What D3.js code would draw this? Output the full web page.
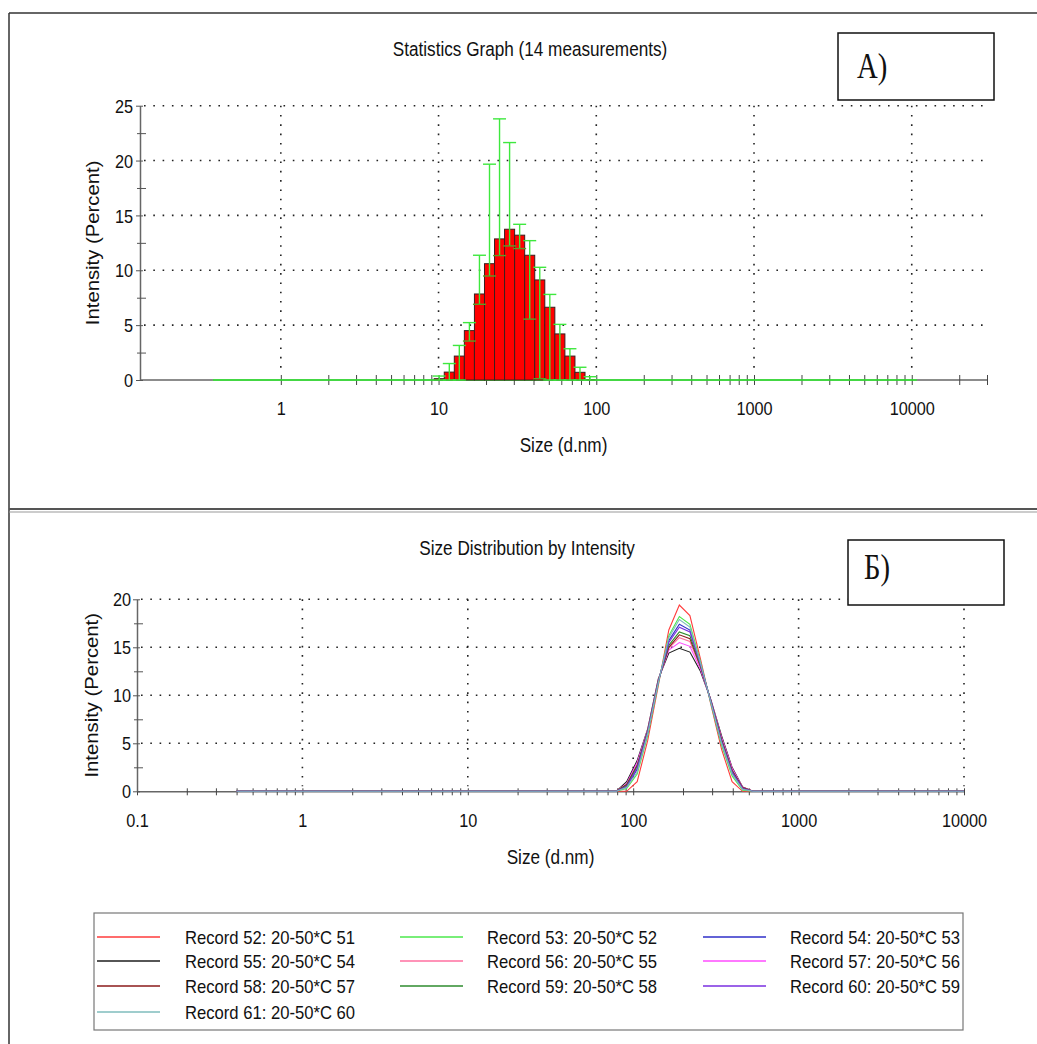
<!DOCTYPE html>
<html><head><meta charset="utf-8">
<script src="https://cdn.jsdelivr.net/npm/d3@7/dist/d3.min.js"></script>
<style>body{margin:0;background:#fff}svg{display:block}</style>
</head><body>
<svg id="c" width="1037" height="1044"></svg>
<script>
// ---------- DATA ----------
// Zetasizer size classes (d.nm)
const sizes = [0.4,0.4632,0.5365,0.6213,0.7195,0.8332,0.9649,1.117,1.294,1.499,1.736,2.01,2.328,2.696,3.122,3.615,4.187,4.849,5.615,6.503,7.531,8.721,10.1,11.7,13.54,15.69,18.17,21.04,24.36,28.21,32.67,37.84,43.82,50.75,58.77,68.06,78.82,91.28,105.7,122.4,141.8,164.2,190.1,220.2,255.0,295.3,342.0,396.1,458.7,531.2,615.1,712.4,825.0,955.4,1106,1281,1484,1718,1990,2305,2669,3091,3580,4145,4801,5560,6439,7456,8635,10000];

// Panel A: statistics histogram (mean, upper and lower error-bar ends)
const histSizes = [10.1,11.7,13.54,15.69,18.17,21.04,24.36,28.21,32.67,37.84,43.82,50.75,58.77,68.06,78.82,91.28];
const histMean  = [0.12,0.72,2.18,4.5,7.84,10.6,12.86,13.74,13.2,11.37,9.12,6.63,4.2,2.18,0.7,0.03];
const histUpper = [0.36,1.5,3.15,5.23,11.37,19.67,23.8,21.64,14.19,12.7,10.27,7.8,5.07,2.85,1.16,0.3];
const histLower = [0,0,0,3.55,6.9,9.48,11.34,12.22,11.98,5.55,0.12,0,0,0,0,0];

const topXTicksMajor = [1,10,100,1000,10000];
const topYTicks = [0,5,10,15,20,25];

// Panel B: size distribution by intensity (non-zero window of sizes)
const peakSizes = [78.82,91.28,105.7,122.4,141.8,164.2,190.1,220.2,255.0,295.3,342.0,396.1,458.7,531.2];
const rec52 = [0,0,1.0,5.3,11.0,16.8,19.4,18.3,13.8,9.0,4.4,1.0,0,0];
const rec53 = [0,0.3,1.8,5.8,11.2,16.2,18.2,17.4,13.5,9.1,4.8,1.6,0.1,0];
const rec54 = [0,0.5,2.3,6.1,11.4,15.7,17.4,16.8,13.3,9.3,5.1,1.9,0.3,0];
const rec55 = [0,1.0,3.2,6.5,11.7,14.4,14.9,14.5,12.5,9.5,5.8,2.5,0.45,0];
const rec56 = [0,0.7,2.8,6.4,11.6,14.9,16.0,15.6,12.9,9.4,5.5,2.3,0.4,0];
const rec57 = [0,0.8,3.0,6.4,11.6,14.7,15.5,15.1,12.7,9.5,5.6,2.4,0.4,0];
const rec58 = [0,0.7,2.7,6.3,11.5,15.0,16.3,15.9,13.0,9.4,5.4,2.2,0.4,0];
const rec59 = [0,0.6,2.6,6.3,11.5,15.2,16.6,16.2,13.1,9.4,5.3,2.1,0.3,0];
const rec60 = [0,0.5,2.4,6.2,11.4,15.5,17.1,16.6,13.2,9.3,5.2,2.0,0.3,0];
const rec61 = [0,0.4,2.0,6.0,11.3,16.0,17.9,17.1,13.4,9.2,5.0,1.8,0.2,0];
const recordNames = ["Record 52: 20-50*C 51","Record 53: 20-50*C 52","Record 54: 20-50*C 53",
  "Record 55: 20-50*C 54","Record 56: 20-50*C 55","Record 57: 20-50*C 56",
  "Record 58: 20-50*C 57","Record 59: 20-50*C 58","Record 60: 20-50*C 59","Record 61: 20-50*C 60"];
const recordValues = [rec52,rec53,rec54,rec55,rec56,rec57,rec58,rec59,rec60,rec61];
const botXTicksMajor = [0.1,1,10,100,1000,10000];
const botYTicks = [0,5,10,15,20];

// ---------- STYLE ----------
const recordColors = ["#ff3b3b","#4de84d","#2f2fc8","#1e1e1e","#ff6fa0","#ff4cff","#8b1a1a","#2e8b2e","#7a2fe0","#7fbcbc"];
const FONT = "'Liberation Sans', Arial, sans-serif";
const SERIF = "'Liberation Serif', 'Times New Roman', serif";
const svg = d3.select("#c");

function label(parent, x, y, str, size, anchor, sx, rotate, fam) {
  return parent.append("text")
    .attr("transform", rotate ? `translate(${x},${y}) rotate(-90) scale(1,${sx})` : `translate(${x},${y}) scale(${sx},1)`)
    .attr("font-family", fam || FONT).attr("font-size", size).attr("text-anchor", anchor)
    .attr("fill", "#111").text(str);
}
function minorTicks(lo, hi) {
  const out = [];
  for (let d = lo; d < hi; d *= 10) for (let k = 1; k <= 9; k++) out.push(+(d * k).toPrecision(6));
  out.push(hi);
  return out;
}
const dotted = g => g.attr("stroke", "#222").attr("stroke-width", 1.6).attr("stroke-dasharray", "1.6,7.7").attr("fill", "none");

// ---------- FRAMES ----------
svg.append("line").attr("x1", 9).attr("x2", 1037).attr("y1", 13).attr("y2", 13).attr("stroke", "#333").attr("stroke-width", 1.5);
svg.append("line").attr("x1", 9).attr("x2", 9).attr("y1", 13).attr("y2", 1044).attr("stroke", "#333").attr("stroke-width", 1.5);
svg.append("line").attr("x1", 9).attr("x2", 1037).attr("y1", 509).attr("y2", 509).attr("stroke", "#555").attr("stroke-width", 2);
svg.append("line").attr("x1", 9).attr("x2", 1037).attr("y1", 512).attr("y2", 512).attr("stroke", "#999").attr("stroke-width", 1);

// ---------- PANEL A ----------
const xT = d3.scaleLog().domain([0.128, 30000]).range([140, 987]);
const yT = d3.scaleLinear().domain([0, 25]).range([380, 105.7]);
const gA = svg.append("g");

topYTicks.filter(v => v > 0).forEach(v =>
  dotted(gA.append("line").attr("x1", xT.range()[0] + 4).attr("x2", xT.range()[1]).attr("y1", yT(v)).attr("y2", yT(v))));
topXTicksMajor.forEach(v =>
  dotted(gA.append("line").attr("x1", xT(v)).attr("x2", xT(v)).attr("y1", yT(25)).attr("y2", yT(0) - 5)));

// x axis
const axTX = gA.append("g").attr("transform", `translate(0,${yT(0)})`)
  .call(d3.axisBottom(xT).tickValues(minorTicks(1, 30000).filter(v => v <= 30000)).tickSize(5).tickSizeOuter(0)
    .tickFormat(v => topXTicksMajor.includes(v) ? String(v) : ""));
axTX.select(".domain").attr("stroke", "#666").attr("stroke-width", 1.5).attr("d", `M${xT.range()[0]},0H${xT.range()[1]}`);
axTX.selectAll(".tick line").attr("y1", -5).attr("y2", 5).attr("stroke", "#444");
axTX.selectAll(".tick text").attr("y", 0).attr("dy", null).attr("transform", "translate(0,35) scale(0.88,1)")
  .attr("font-family", FONT).attr("font-size", 18.5).attr("fill", "#111");

// y axis
const axTY = gA.append("g").attr("transform", `translate(${xT.range()[0]},0)`)
  .call(d3.axisLeft(yT).tickValues(d3.range(0, 25.01, 2.5)).tickSize(4).tickSizeOuter(0)
    .tickFormat(v => topYTicks.includes(v) ? String(v) : ""));
axTY.select(".domain").attr("stroke", "#666").attr("stroke-width", 1.5);
axTY.selectAll(".tick line").attr("x1", v => topYTicks.includes(v) ? -4 : -3).attr("x2", v => topYTicks.includes(v) ? 3 : 6).attr("stroke", "#555");
axTY.selectAll(".tick text").attr("x", 0).attr("dy", "0.36em").attr("transform", "translate(-7,0) scale(0.88,1)")
  .attr("font-family", FONT).attr("font-size", 18.5).attr("fill", "#111");

// green zero line over the data range
const r0 = Math.sqrt(sizes[1] / sizes[0]);
gA.append("line").attr("x1", xT(sizes[0] / r0)).attr("x2", xT(sizes[sizes.length - 1] * r0))
  .attr("y1", yT(0)).attr("y2", yT(0)).attr("stroke", "#2cf02c").attr("stroke-width", 1.6);

// bars
const edges = s => {
  const i = sizes.indexOf(s);
  return [Math.sqrt(sizes[i - 1] * s), Math.sqrt(s * sizes[i + 1])];
};
gA.selectAll("rect.bar").data(histSizes).join("rect").attr("class", "bar")
  .attr("x", s => xT(edges(s)[0])).attr("width", s => xT(edges(s)[1]) - xT(edges(s)[0]))
  .attr("y", (s, i) => yT(histMean[i])).attr("height", (s, i) => yT(0) - yT(histMean[i]))
  .attr("fill", "#ff0000").attr("stroke", "#3a2020").attr("stroke-width", 1);

// error bars
const eb = gA.append("g").attr("stroke", "#3ee83e").attr("stroke-width", 1.4).attr("fill", "none");
histSizes.forEach((s, i) => {
  const x = xT(s);
  eb.append("line").attr("x1", x).attr("x2", x).attr("y1", yT(histLower[i])).attr("y2", yT(histUpper[i]));
  eb.append("line").attr("x1", x - 6.5).attr("x2", x + 6.5).attr("y1", yT(histUpper[i])).attr("y2", yT(histUpper[i]));
  eb.append("line").attr("x1", x - 6.5).attr("x2", x + 6.5).attr("y1", yT(histLower[i])).attr("y2", yT(histLower[i]))
    .attr("stroke", histLower[i] > 0 ? "#5c9e24" : "#3ee83e");
});

label(gA, 530, 55.5, "Statistics Graph (14 measurements)", 19.5, "middle", 0.88);
label(gA, (xT.range()[0] + xT.range()[1]) / 2, 452, "Size (d.nm)", 19.5, "middle", 0.88);
label(gA, 99, (yT(0) + yT(25)) / 2, "Intensity (Percent)", 20.3, "middle", 0.88, true);

gA.append("rect").attr("x", 838).attr("y", 33).attr("width", 156).attr("height", 67)
  .attr("fill", "#fff").attr("stroke", "#111").attr("stroke-width", 1.5);
label(gA, 857, 78, "A)", 35, "start", 0.82, false, SERIF);

// ---------- PANEL B ----------
const xB = d3.scaleLog().domain([0.1, 10000]).range([137, 964]);
const yB = d3.scaleLinear().domain([0, 20]).range([791.3, 599.3]);
const gB = svg.append("g");

botYTicks.filter(v => v > 0).forEach(v =>
  dotted(gB.append("line").attr("x1", xB.range()[0] + 4).attr("x2", xB.range()[1]).attr("y1", yB(v)).attr("y2", yB(v))));
botXTicksMajor.filter(v => v > 0.1).forEach(v =>
  dotted(gB.append("line").attr("x1", xB(v)).attr("x2", xB(v)).attr("y1", yB(20)).attr("y2", yB(0) - 5)));

const axBX = gB.append("g").attr("transform", `translate(0,${yB(0)})`)
  .call(d3.axisBottom(xB).tickValues(minorTicks(0.1, 10000)).tickSize(4).tickSizeOuter(0)
    .tickFormat(v => botXTicksMajor.includes(v) ? String(v) : ""));
axBX.select(".domain").attr("stroke", "#666").attr("stroke-width", 1.5);
axBX.selectAll(".tick line").attr("y1", -3).attr("y2", 4).attr("stroke", "#444");
axBX.selectAll(".tick text").attr("y", 0).attr("dy", null).attr("transform", "translate(0,36) scale(0.88,1)")
  .attr("font-family", FONT).attr("font-size", 18.5).attr("fill", "#111");

const axBY = gB.append("g").attr("transform", `translate(${xB.range()[0]},0)`)
  .call(d3.axisLeft(yB).tickValues(d3.range(0, 20.01, 2.5)).tickSize(4).tickSizeOuter(0)
    .tickFormat(v => botYTicks.includes(v) ? String(v) : ""));
axBY.select(".domain").attr("stroke", "#666").attr("stroke-width", 1.5);
axBY.selectAll(".tick line").attr("x1", v => botYTicks.includes(v) ? -4 : -3).attr("x2", v => botYTicks.includes(v) ? 3 : 6).attr("stroke", "#555");
axBY.selectAll(".tick text").attr("x", 0).attr("dy", "0.36em").attr("transform", "translate(-6,0) scale(0.88,1)")
  .attr("font-family", FONT).attr("font-size", 18.5).attr("fill", "#111");

// curves (zero outside the non-zero window)
const startIdx = sizes.indexOf(peakSizes[0]);
const line = d3.line().x(d => xB(d.s)).y(d => yB(d.v));
recordValues.forEach((vals, r) => {
  const pts = sizes.map((s, i) => ({ s, v: (i >= startIdx && i < startIdx + vals.length) ? vals[i - startIdx] : 0 }));
  gB.append("path").datum(pts).attr("d", line).attr("fill", "none")
    .attr("stroke", recordColors[r]).attr("stroke-width", 1.1);
});

label(gB, 527, 555, "Size Distribution by Intensity", 19.5, "middle", 0.88);
label(gB, (xB.range()[0] + xB.range()[1]) / 2, 864, "Size (d.nm)", 19.5, "middle", 0.88);
label(gB, 98, (yB(0) + yB(20)) / 2, "Intensity (Percent)", 20.3, "middle", 0.88, true);

gB.append("rect").attr("x", 848).attr("y", 540).attr("width", 156).attr("height", 65)
  .attr("fill", "#fff").attr("stroke", "#111").attr("stroke-width", 1.5);
label(gB, 864, 579, "Б)", 35, "start", 0.82, false, SERIF);

// ---------- LEGEND ----------
const gL = svg.append("g");
gL.append("rect").attr("x", 94).attr("y", 913).attr("width", 869).attr("height", 117)
  .attr("fill", "#fff").attr("stroke", "#777").attr("stroke-width", 1.2);
const colLine = [97, 400, 703], colText = [185, 487, 790], rowY = [937, 961, 986, 1012];
recordNames.forEach((name, i) => {
  const c = i % 3, r = Math.floor(i / 3);
  gL.append("line").attr("x1", colLine[c]).attr("x2", colLine[c] + 63).attr("y1", rowY[r]).attr("y2", rowY[r])
    .attr("stroke", recordColors[i]).attr("stroke-width", 1.5);
  label(gL, colText[c], rowY[r] + 6.5, name, 18.5, "start", 0.9);
});
</script>
</body></html>
